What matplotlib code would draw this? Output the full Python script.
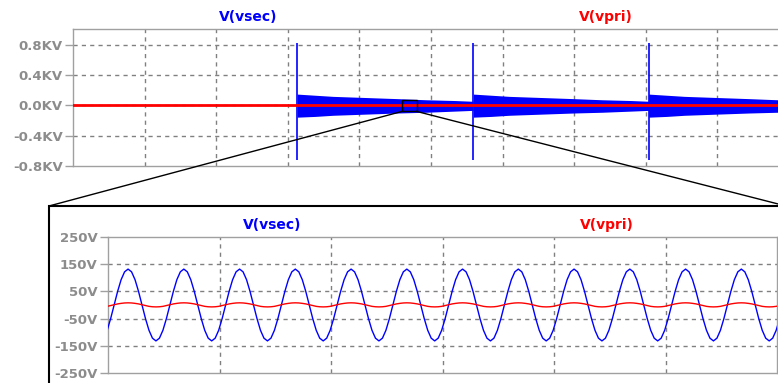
import numpy as np
import matplotlib.pyplot as plt
from matplotlib.patches import Rectangle
from matplotlib.lines import Line2D

W, H = 778, 383

# ---- overview trace (x in grid divisions) ----
top_t = [0.0, 10.0]
top_vpri = [0.0, 0.0]
spike_x = [3.13, 5.59, 8.04]
spike_hi = [0.83, 0.83, 0.83]
spike_lo = [-0.72, -0.72, -0.72]
# ringing envelope after each spike (offset in divisions, KV)
env_dx = [0.0, 0.25, 0.5, 0.8, 1.1, 1.4, 1.8, 2.2, 2.46]
env_hi = [0.15, 0.135, 0.12, 0.11, 0.10, 0.09, 0.075, 0.065, 0.055]
env_lo = [-0.155, -0.145, -0.13, -0.12, -0.11, -0.10, -0.09, -0.075, -0.065]
top_ticks = [0.8, 0.4, 0.0, -0.4, -0.8]
top_labels = ['0.8KV', '0.4KV', '0.0KV', '-0.4KV', '-0.8KV']
zoom_x = [4.595, 4.80]
zoom_y = [-0.079, 0.066]

# ---- zoomed traces: one cycle, 16 samples starting at the peak (V) ----
vsec_cycle = [132, 122, 93, 50, 0, -50, -93, -122, -132, -122, -93, -50, 0, 50, 93, 122]
vpri_cycle = [8, 7.5, 6, 4, 1, -2, -5, -6.5, -7, -6.5, -5, -2, 1, 4, 6, 7.5]
period = 0.5        # divisions
first_peak = 0.18   # divisions
n_cycles = 13
bot_ticks = [250, 150, 50, -50, -150, -250]
bot_labels = ['250V', '150V', '50V', '-50V', '-150V', '-250V']

BLUE = '#0000ff'
RED = '#ff0000'
TXT = '#8c8c8c'
SPINE = '#a0a0a0'
GRID = '#808080'


def box(l, t, r, b):
    return [l / W, 1 - b / H, (r - l) / W, (b - t) / H]


def style(ax, ticks, labels, xgrid, ygrid):
    for s in ax.spines.values():
        s.set_color(SPINE)
        s.set_linewidth(1)
    ax.set_xticks([])
    ax.set_yticks(ticks)
    ax.set_yticklabels(labels, fontsize=9.5, fontweight='bold', color=TXT)
    ax.tick_params(axis='y', length=6, width=1, color=SPINE, pad=1.5)
    for x in xgrid:
        ax.axvline(x, color=GRID, lw=1, ls=(0, (3, 3)), zorder=1)
    for y in ygrid:
        ax.axhline(y, color=GRID, lw=1, ls=(0, (3, 3)), zorder=1)


fig = plt.figure(figsize=(W / 100, H / 100), dpi=100)

# top overview
ax1 = fig.add_axes(box(73, 29, 789, 166))
ax1.set_xlim(0, 10)
ax1.set_ylim(-0.8, 1.01)
style(ax1, top_ticks, top_labels, range(1, 10), [0.8, 0.4, 0.0, -0.4])
for sx, hi, lo in zip(spike_x, spike_hi, spike_lo):
    xs = sx + np.array(env_dx)
    ax1.fill_between(xs, env_lo, env_hi, color=BLUE, lw=0, zorder=2)
    ax1.vlines(sx, lo, hi, color=BLUE, lw=1.2, zorder=2)
ax1.plot(top_t, top_vpri, color=RED, lw=2, zorder=3)
ax1.add_patch(Rectangle((zoom_x[0], zoom_y[0]), zoom_x[1] - zoom_x[0],
                        zoom_y[1] - zoom_y[0], fill=False, ec='black', lw=1, zorder=4))
fig.text(248 / W, 1 - 17 / H, 'V(vsec)', color=BLUE, fontsize=10, fontweight='bold',
         ha='center', va='center')
fig.text(606 / W, 1 - 17 / H, 'V(vpri)', color=RED, fontsize=10, fontweight='bold',
         ha='center', va='center')

# zoom frame and connector lines
frame_l, frame_t, frame_r = 49, 206, 786
fig.patches.append(Rectangle((frame_l / W, -0.1), (frame_r - frame_l) / W,
                             1 - frame_t / H + 0.1, transform=fig.transFigure,
                             fill=False, ec='black', lw=1.5, zorder=0))
inv = fig.transFigure.inverted()
p_left = inv.transform(ax1.transData.transform((zoom_x[0], zoom_y[0])))
p_right = inv.transform(ax1.transData.transform((zoom_x[1], zoom_y[0])))
fig.lines.append(Line2D([p_left[0], frame_l / W], [p_left[1], 1 - frame_t / H],
                        transform=fig.transFigure, color='black', lw=1, zorder=5))
fig.lines.append(Line2D([p_right[0], frame_r / W], [p_right[1], 1 - frame_t / H],
                        transform=fig.transFigure, color='black', lw=1, zorder=5))

# bottom zoomed view
ax2 = fig.add_axes(box(108, 237, 777, 373))
ax2.set_xlim(0, 6)
ax2.set_ylim(-250, 250)
style(ax2, bot_ticks, bot_labels, range(1, 6), [150, 50, -50, -150])
n = n_cycles * len(vsec_cycle) + 1
t = first_peak - period + np.arange(n) * (period / len(vsec_cycle))
vsec = np.append(np.tile(vsec_cycle, n_cycles), vsec_cycle[0])
vpri = np.append(np.tile(vpri_cycle, n_cycles), vpri_cycle[0])
ax2.plot(t, vsec, color=BLUE, lw=1.0, zorder=3)
ax2.plot(t, vpri, color=RED, lw=1.0, zorder=3)
fig.text(272 / W, 1 - 225 / H, 'V(vsec)', color=BLUE, fontsize=10, fontweight='bold',
         ha='center', va='center')
fig.text(607 / W, 1 - 225 / H, 'V(vpri)', color=RED, fontsize=10, fontweight='bold',
         ha='center', va='center')

fig.savefig('out.png', dpi=100)
